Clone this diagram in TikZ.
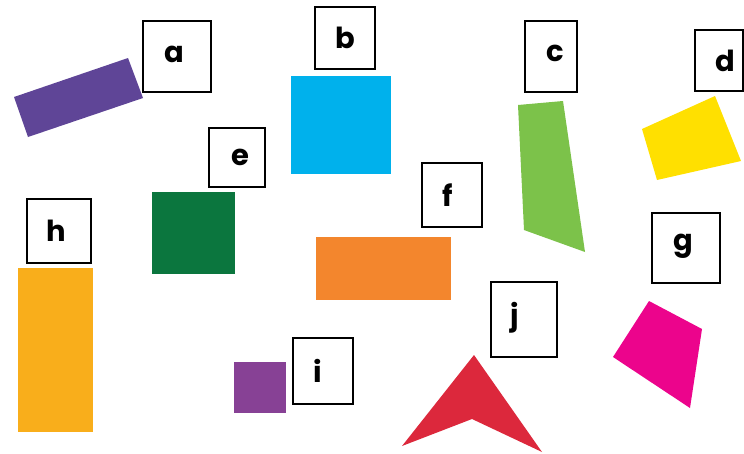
\documentclass[tikz,border=0pt]{standalone}
\usepackage{fontspec}
\setmainfont{Poppins}
\usepackage{tikz}
\usetikzlibrary{positioning}
\definecolor{ShapePurple}{HTML}{5F4597}
\definecolor{ShapeBlue}{HTML}{00B1EC}
\definecolor{ShapeLime}{HTML}{7CC24A}
\definecolor{ShapeYellow}{HTML}{FFE000}
\definecolor{ShapeGreen}{HTML}{0B763E}
\definecolor{ShapeOrange}{HTML}{F3862D}
\definecolor{ShapeMagenta}{HTML}{EC048C}
\definecolor{ShapeAmber}{HTML}{F9AE1B}
\definecolor{ShapeViolet}{HTML}{874195}
\definecolor{ShapeRed}{HTML}{DC283C}

\begin{document}
\begin{tikzpicture}[
  x=1pt,y=-1pt,
  lblbox/.style={draw=black,line width=1.5pt,fill=white,inner sep=0pt},
  lbltext/.style={inner sep=0pt,font=\fontsize{29}{29}\selectfont\bfseries},
  piece/.style={draw=none},
]
\useasboundingbox (0,0) rectangle (744,453);
% shapes
\fill[piece,ShapePurple] (14,97) -- (128,58) -- (143,98) -- (28,137) -- cycle;
\fill[piece,ShapeBlue] (291,76) rectangle (391,174);
\fill[piece,ShapeLime] (518,105) -- (563,101) -- (585,252) -- (524,230) -- cycle;
\fill[piece,ShapeYellow] (642,129) -- (715,96) -- (741,161) -- (657,180) -- cycle;
\fill[piece,ShapeGreen] (152,192) rectangle (235,274);
\fill[piece,ShapeOrange] (316,237) rectangle (451,300);
\fill[piece,ShapeMagenta] (649,301) -- (702,329) -- (690,408) -- (613,357) -- cycle;
\fill[piece,ShapeAmber] (18,268) rectangle (93,432);
\fill[piece,ShapeViolet] (234,362) rectangle (286,413);
\fill[piece,ShapeRed] (474,355) -- (542,452) -- (472,419) -- (402,446) -- cycle;
% labels
\node[lblbox,minimum width=68pt,minimum height=71pt,label={[lbltext,xshift=-3pt,yshift=2pt]center:a}] (a) at (177,56.5) {};
\node[lblbox,minimum width=60pt,minimum height=62pt,label={[lbltext]center:b}] (b) at (345,38) {};
\node[lblbox,minimum width=52pt,minimum height=71pt,label={[lbltext,xshift=4pt,yshift=3pt]center:c}] (c) at (551,56.5) {};
\node[lblbox,minimum width=48pt,minimum height=61pt,label={[lbltext,xshift=6pt]center:d}] (d) at (719,60.5) {};
\node[lblbox,minimum width=56pt,minimum height=59pt,label={[lbltext,xshift=3pt]center:e}] (e) at (237,157.5) {};
\node[lblbox,minimum width=60pt,minimum height=64pt,label={[lbltext,xshift=-4pt]center:f}] (f) at (452,195) {};
\node[lblbox,minimum width=68pt,minimum height=70pt,label={[lbltext,xshift=-3pt,yshift=2pt]center:g}] (g) at (686,248) {};
\node[lblbox,minimum width=64pt,minimum height=64pt,label={[lbltext,xshift=-3pt]center:h}] (h) at (59,231) {};
\node[lblbox,minimum width=60pt,minimum height=66pt,label={[lbltext,xshift=-5pt]center:i}] (i) at (323,371) {};
\node[lblbox,minimum width=66pt,minimum height=75pt,label={[lbltext,xshift=-9pt,yshift=2pt]center:j}] (j) at (524,319.5) {};
\end{tikzpicture}
\end{document}
